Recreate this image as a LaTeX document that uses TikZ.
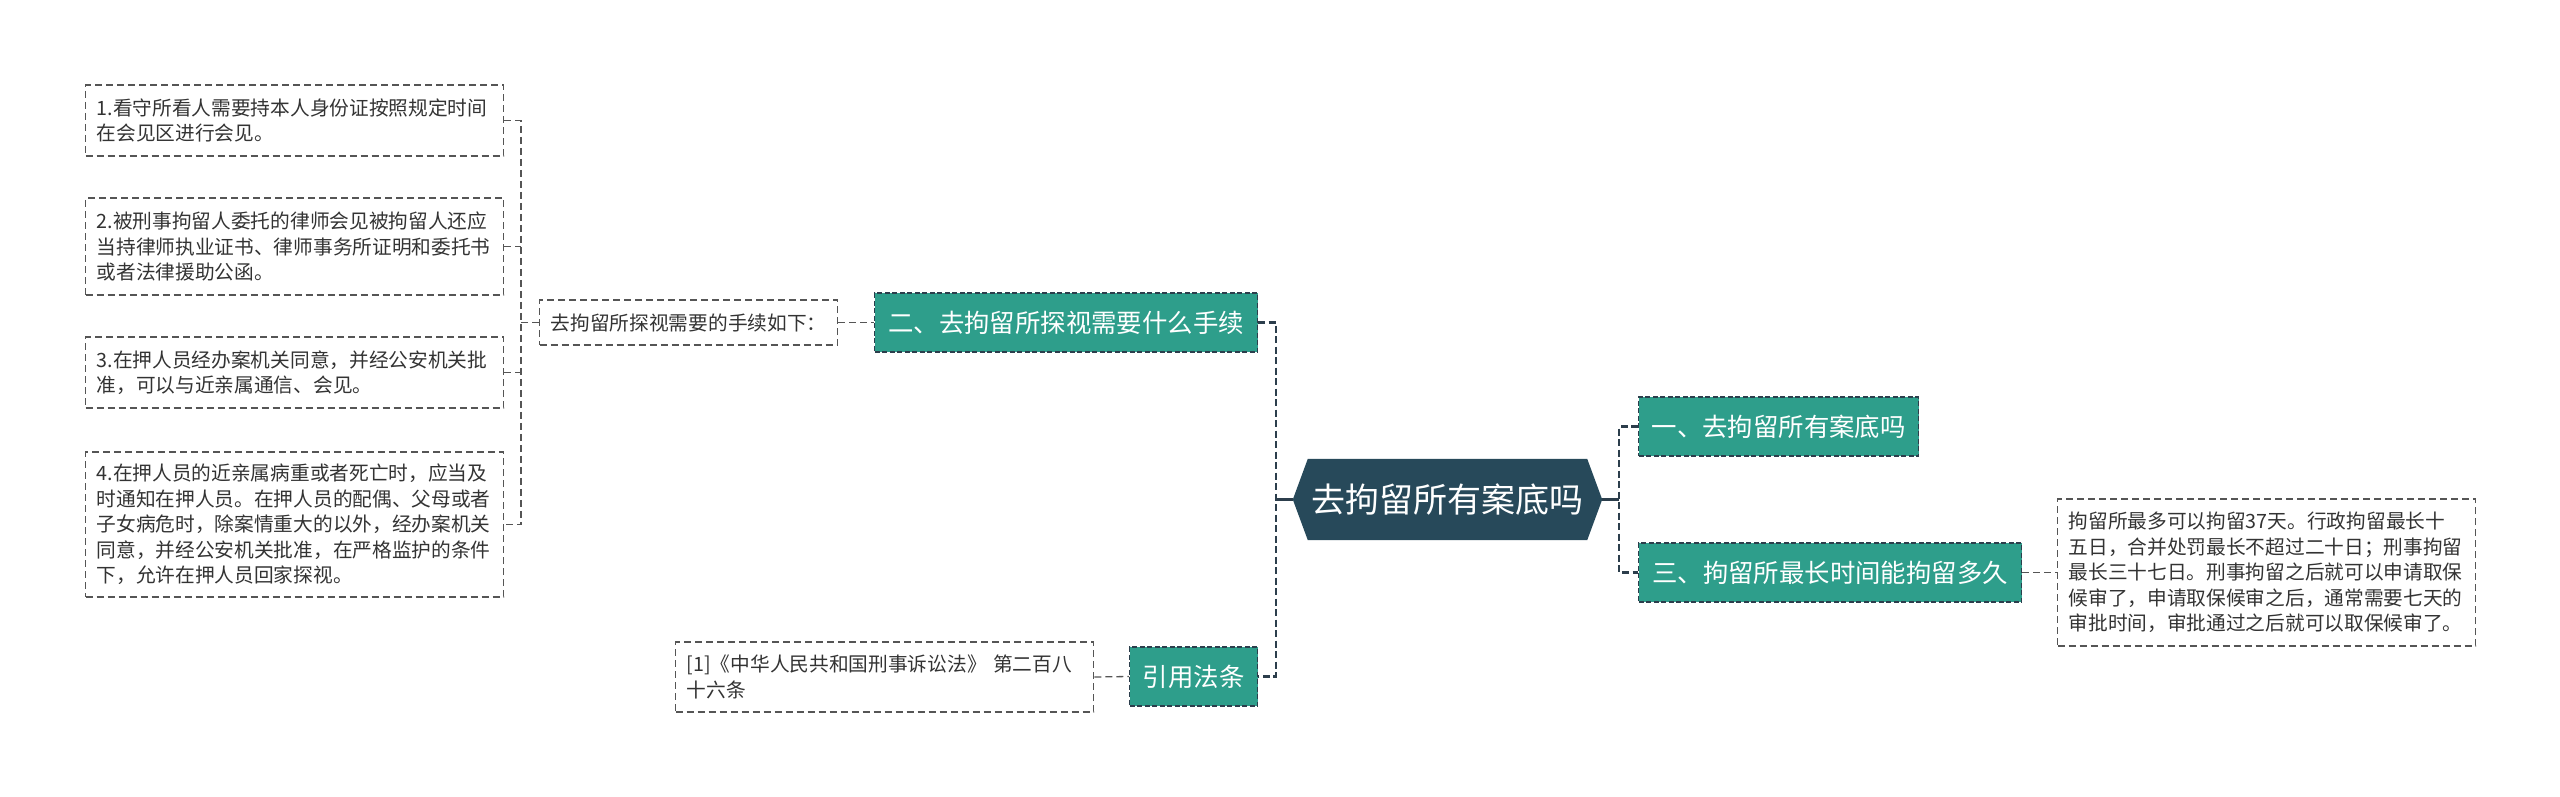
\documentclass[tikz,border=0pt]{standalone}
\usepackage{fontspec}
\setmainfont{Noto Sans CJK SC}
\usepackage{tikz}
\usetikzlibrary{backgrounds}
\definecolor{croot}{HTML}{27495A}
\definecolor{ctopic}{HTML}{2E9E8B}
\definecolor{cline}{HTML}{2C3E4C}
\definecolor{cleaf}{HTML}{555555}
\definecolor{ctext}{HTML}{333333}
\tikzset{
  leafn/.style={draw=cleaf, dash pattern=on 7pt off 4pt, line width=1.3pt, anchor=west, inner xsep=11pt, inner ysep=0pt, text width=396pt, align=left, text=ctext, font=\fontsize{19.7}{25.5}\selectfont},
  midn/.style={leafn, text width=, minimum width=298pt, minimum height=45pt},
  topicn/.style={draw=cline, fill=ctopic, dash pattern=on 5pt off 2.5pt, line width=1.2pt, anchor=west, inner sep=0pt, minimum height=59pt, text=white, font=\fontsize{25.4}{30}\selectfont},
  rootn/.style={inner sep=0pt, minimum width=309pt, minimum height=81pt, text=white, font=\fontsize{34}{40}\selectfont},
  trunk/.style={draw=cline, line width=2.6pt, dash pattern=on 7pt off 3.5pt},
  stem/.style={draw=cline, line width=2.6pt},
  twig/.style={draw=cleaf, line width=1.3pt, dash pattern=on 7pt off 4pt},
}
\begin{document}
\begin{tikzpicture}[x=1pt,y=-1pt]
\useasboundingbox (0,0) rectangle (2560,797);
% centre
\node[rootn] (root) at (1447.5,499.5) {去拘留所有案底吗};
\begin{scope}[on background layer]
\fill[croot] (root.west) -- ([xshift=15pt]root.north west) -- ([xshift=-15pt]root.north east)
  -- (root.east) -- ([xshift=-15pt]root.south east) -- ([xshift=15pt]root.south west) -- cycle;
\end{scope}
% left side
\node[topicn, minimum width=383pt] (two) at (874,322.5) {二、去拘留所探视需要什么手续};
\node[topicn, minimum width=128pt] (cite) at (1129,676.5) {引用法条};
\node[midn] (need) at (539,322.5) {去拘留所探视需要的手续如下：};
\node[leafn, minimum height=71pt] (s1) at (85,120.5) {1.看守所看人需要持本人身份证按照规定时间\\在会见区进行会见。};
\node[leafn, minimum height=97pt] (s2) at (85,246.5) {2.被刑事拘留人委托的律师会见被拘留人还应\\当持律师执业证书、律师事务所证明和委托书\\或者法律援助公函。};
\node[leafn, minimum height=71pt] (s3) at (85,372.5) {3.在押人员经办案机关同意，并经公安机关批\\准，可以与近亲属通信、会见。};
\node[leafn, minimum height=145pt] (s4) at (85,524.5) {4.在押人员的近亲属病重或者死亡时，应当及\\时通知在押人员。在押人员的配偶、父母或者\\子女病危时，除案情重大的以外，经办案机关\\同意，并经公安机关批准，在严格监护的条件\\下，允许在押人员回家探视。};
\node[leafn, minimum height=70pt] (law) at (675,677) {[1]《中华人民共和国刑事诉讼法》 第二百八\\十六条};
% right side
\node[topicn, minimum width=280pt] (one) at (1638,426.5) {一、去拘留所有案底吗};
\node[topicn, minimum width=383pt] (three) at (1638,572.5) {三、拘留所最长时间能拘留多久};
\node[leafn, minimum height=147pt] (days) at (2057,572.5) {拘留所最多可以拘留37天。行政拘留最长十\\五日，合并处罚最长不超过二十日；刑事拘留\\最长三十七日。刑事拘留之后就可以申请取保\\候审了，申请取保候审之后，通常需要七天的\\审批时间，审批通过之后就可以取保候审了。};
% connectors
\coordinate (lj) at (1276,499.5);
\coordinate (rj) at (1619,499.5);
\coordinate (sj) at (521,322.5);
\draw[stem] (root.west) -- (lj);
\draw[stem] (root.east) -- (rj);
\draw[trunk] (two.east) -| (lj) |- (cite.east);
\draw[trunk] (one.west) -| (rj) |- (three.west);
\draw[twig] (need.east) -- (two.west);
\draw[twig] (law.east) -- (cite.west);
\draw[twig] (three.east) -- (days.west);
\draw[twig] (need.west) -- (sj);
\draw[twig] (s1.east) -| (sj) |- (s4.east);
\draw[twig] (s2.east) -- (s2.east -| sj);
\draw[twig] (s3.east) -- (s3.east -| sj);
\end{tikzpicture}
\end{document}
